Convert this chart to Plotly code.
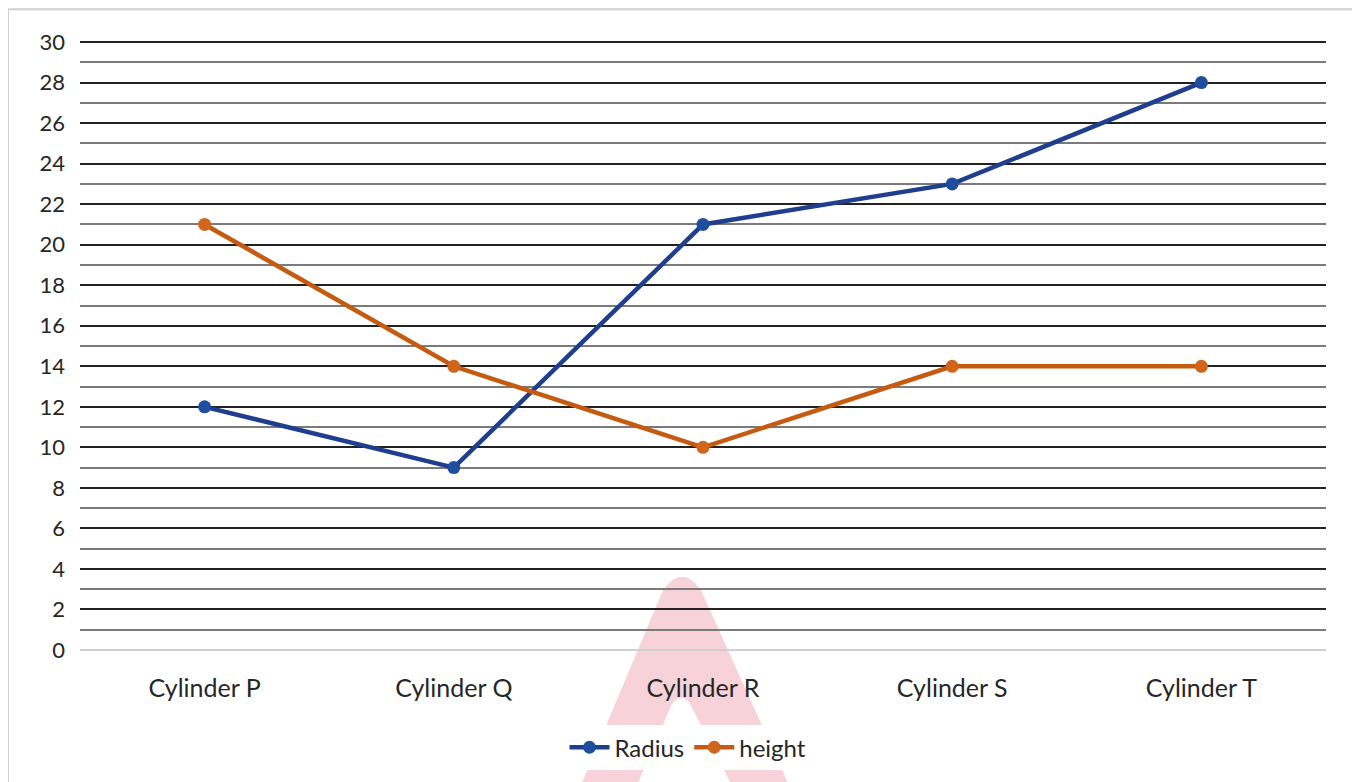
import plotly.graph_objects as go

categories = ["Cylinder P", "Cylinder Q", "Cylinder R", "Cylinder S", "Cylinder T"]
radius = [12, 9, 21, 23, 28]
height = [21, 14, 10, 14, 14]
y_ticks = list(range(0, 31, 2))

OFF = 8  # default page body margin
YMAX = 30.2
W, H = 1360 - OFF, 782 - OFF
B = 130
ph = 610 * YMAX / 30.0
T = int(round(H - B - ph))
L, R = 80 - OFF, 34
pw = W - L - R


def px(x):
    return (x - OFF - L) / pw


def py(y):
    return (H - B - (y - OFF)) / ph


fig = go.Figure()
fig.add_trace(go.Scatter(x=categories, y=radius, name="Radius", mode="lines+markers",
                         line=dict(color="#1F3E8E", width=4.5), marker=dict(size=13, color="#1F4E9F")))
fig.add_trace(go.Scatter(x=categories, y=height, name="height", mode="lines+markers",
                         line=dict(color="#C55A11", width=4.5), marker=dict(size=13, color="#D0651C")))

# watermark
pts = "M {} {} L {} {} Q {} {} {} {} L {} {} L {} {} L {} {} Q {} {} {} {} L {} {} Z".format(
    px(580), py(790), px(663), py(592), px(682), py(565), px(701), py(592), px(790), py(790),
    px(733), py(790), px(690), py(706), px(681), py(694), px(672), py(706), px(636), py(790))
shapes = [
    dict(type="path", path=pts, xref="paper", yref="paper", fillcolor="rgba(240,165,178,0.5)",
         line=dict(width=0), layer="below"),
    dict(type="rect", xref="paper", yref="paper", x0=px(8), x1=px(1370), y0=py(800), y1=py(9),
         line=dict(color="#D0D0D0", width=2), layer="below"),
]

font = "Lato, 'Open Sans', sans-serif"
fig.update_layout(
    width=W, height=H, margin=dict(l=L, r=R, t=T, b=B),
    paper_bgcolor="white", plot_bgcolor="rgba(0,0,0,0)",
    font=dict(family=font, size=24, color="#262626"),
    shapes=shapes,
    showlegend=True,
    legend=dict(orientation="h", x=px(688), xanchor="center", y=py(750), yanchor="middle",
                font=dict(size=24, color="#262626"), itemwidth=40, tracegroupgap=0),
    xaxis=dict(type="category", range=[-0.5, 4.5], showgrid=False, showline=False, ticks="",
               tickfont=dict(size=25, color="#262626"), ticklabelstandoff=21),
    yaxis=dict(range=[0, YMAX], tickvals=y_ticks, showgrid=True, gridcolor="#222222", gridwidth=1.8,
               minor=dict(dtick=1, showgrid=True, gridcolor="#7A7A7A", gridwidth=1.8),
               zeroline=True, zerolinecolor="#D0D0D0", zerolinewidth=2,
               showline=False, ticks="", tickfont=dict(size=22, color="#262626"),
               ticklabelstandoff=14, fixedrange=True),
)

fig.write_html("out.html")
